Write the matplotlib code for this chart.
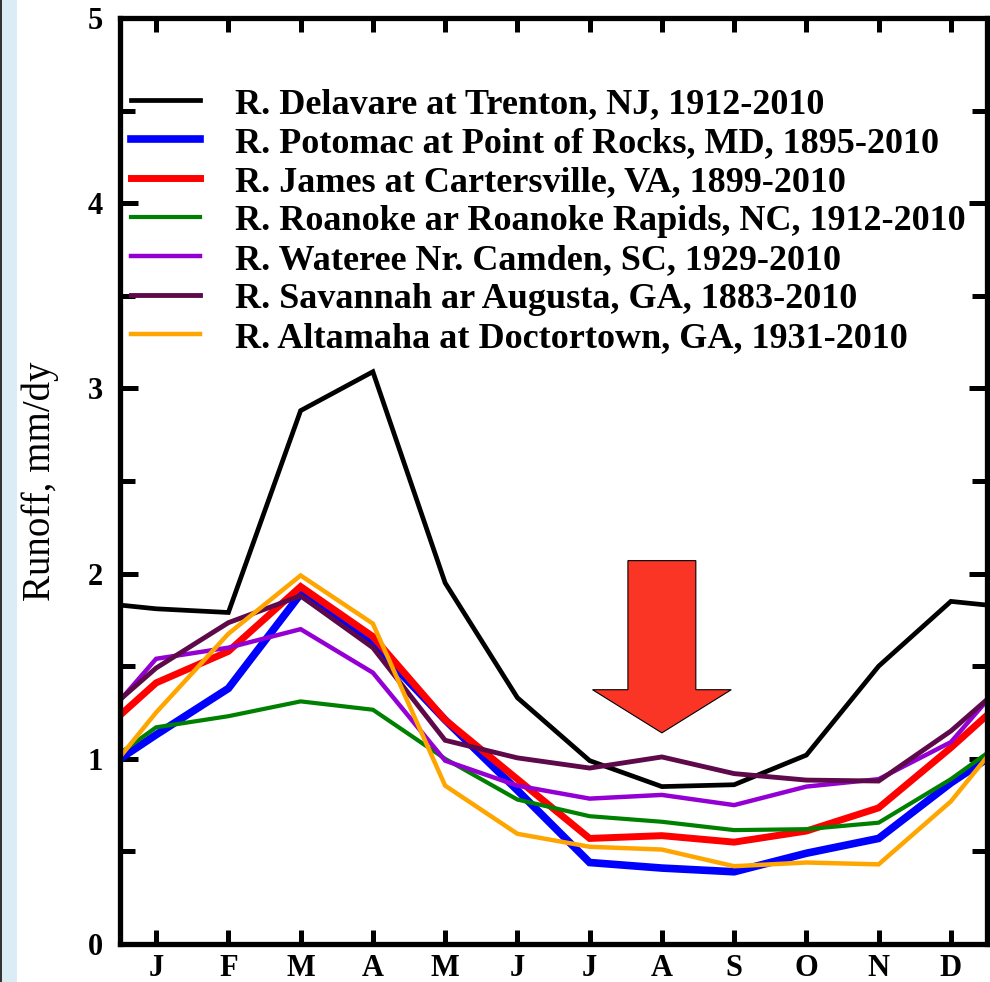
import matplotlib
matplotlib.use("Agg")
import matplotlib.pyplot as plt
from matplotlib.patches import Polygon, Rectangle
import numpy as np

plt.rcParams['font.family'] = ['Liberation Serif', 'DejaVu Serif']

# monthly mean runoff, mm/dy
months = ['J', 'F', 'M', 'A', 'M', 'J', 'J', 'A', 'S', 'O', 'N', 'D']

delaware = [1.81, 1.79, 2.88, 3.09, 1.95, 1.33, 0.99, 0.85, 0.86, 1.02, 1.50, 1.85]
potomac = [1.13, 1.38, 1.89, 1.62, 1.21, 0.83, 0.44, 0.41, 0.39, 0.49, 0.57, 0.87]
james = [1.41, 1.58, 1.93, 1.66, 1.21, 0.89, 0.57, 0.585, 0.55, 0.61, 0.735, 1.06]
roanoke = [1.17, 1.23, 1.31, 1.265, 1.00, 0.78, 0.69, 0.66, 0.615, 0.62, 0.655, 0.89]
wateree = [1.54, 1.60, 1.70, 1.465, 0.99, 0.855, 0.785, 0.805, 0.75, 0.85, 0.89, 1.09]
savannah = [1.49, 1.735, 1.88, 1.60, 1.10, 1.005, 0.95, 1.01, 0.92, 0.885, 0.88, 1.15]
altamaha = [1.25, 1.675, 1.99, 1.73, 0.855, 0.595, 0.525, 0.51, 0.42, 0.44, 0.43, 0.77]

labels = [
    'R. Delavare at Trenton, NJ, 1912-2010',
    'R. Potomac at Point of Rocks, MD, 1895-2010',
    'R. James at Cartersville, VA, 1899-2010',
    'R. Roanoke ar Roanoke Rapids, NC, 1912-2010',
    'R. Wateree Nr. Camden, SC, 1929-2010',
    'R. Savannah ar Augusta, GA, 1883-2010',
    'R. Altamaha at Doctortown, GA, 1931-2010',
]
series = [delaware, potomac, james, roanoke, wateree, savannah, altamaha]
colors = ['#000000', '#0000ff', '#ff0000', '#008000', '#9400d3', '#5e0a4a', '#ffa500']
widths = [3.4, 5.5, 5.0, 3.0, 3.2, 3.5, 3.2]

fig = plt.figure(figsize=(9.9, 9.82), dpi=100)
fig.patches.append(Rectangle((0, 0), 17 / 990, 1, transform=fig.transFigure,
                             facecolor='#daedf4', edgecolor='none', zorder=0))
fig.patches.append(Rectangle((0, 0), 2 / 990, 1, transform=fig.transFigure,
                             facecolor='#333333', edgecolor='none', zorder=0))

ax = fig.add_axes([120 / 990, 38 / 982, 867 / 990, 926 / 982])

xc = np.arange(12) + 0.5
# wrap the annual cycle: December before January, January after December
xw = np.r_[xc[-1] - 12, xc, xc[0] + 12]
for vals, c, lw, lab in zip(series, colors, widths, labels):
    v = np.asarray(vals)
    yw = np.r_[v[-1], v, v[0]]
    ax.plot(xw, yw, color=c, lw=lw, label=lab, solid_joinstyle='miter')

# red arrow pointing at the late-summer minimum
arrow = Polygon([(7.03, 2.07), (7.97, 2.07), (7.97, 1.373), (8.46, 1.373),
                 (7.5, 1.14), (6.54, 1.373), (7.03, 1.373)],
                closed=True, facecolor='#fa3526', edgecolor='black', lw=0.8, zorder=5)
ax.add_patch(arrow)

ax.set_xlim(0, 12)
ax.set_ylim(0, 5)
ax.set_xticks(xc)
ax.set_xticklabels(months, fontsize=22, fontweight='bold')
ax.set_yticks([0, 1, 2, 3, 4, 5])
ax.set_yticklabels(['0', '1', '2', '3', '4', '5'], fontsize=22, fontweight='bold')
ax.set_yticks(np.arange(0.5, 5, 1.0), minor=True)

for s in ax.spines.values():
    s.set_linewidth(3.8)
ax.tick_params(axis='x', which='major', direction='in', length=10, width=3.6,
               top=True, pad=7)
ax.tick_params(axis='y', which='major', direction='in', length=13, width=3.6,
               right=True, pad=12)
ax.tick_params(axis='y', which='minor', direction='in', length=11, width=3.6,
               right=True)

ax.set_ylabel('Runoff, mm/dy', fontsize=28, labelpad=21)

ax.legend(loc='upper left', bbox_to_anchor=(0.0127, 0.925), frameon=False,
          prop={'size': 26, 'weight': 'bold'}, handlelength=1.92, handletextpad=0.96,
          labelspacing=0.16, borderpad=0, borderaxespad=0)

fig.savefig('out.png', dpi=100)
